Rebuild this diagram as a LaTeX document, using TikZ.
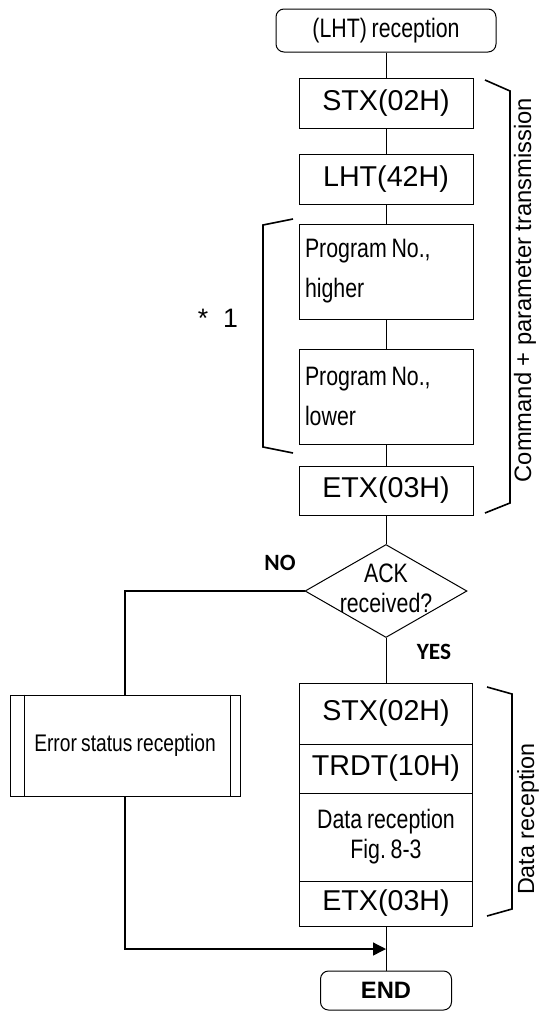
\documentclass[tikz,border=0pt]{standalone}
\usepackage{fontspec}
\setmainfont{Liberation Sans}
\newfontfamily\narrowfont[FakeStretch=0.8,WordSpace=0.8]{Liberation Sans}
\newfontfamily\yesnofont{Carlito}
\usepackage{tikz}
\usetikzlibrary{shapes.geometric,arrows.meta,calc}
\newlength{\pxu}\setlength{\pxu}{0.75pt}

\begin{document}
\begin{tikzpicture}[x=0.75pt,y=0.75pt,yscale=-1,xscale=1,
  frame/.style={draw, line width=0.75pt, inner sep=0pt, minimum width=174\pxu},
  term/.style={frame, rounded corners=8\pxu},
  cell/.style={frame, minimum width=173\pxu},
  decision/.style={draw, diamond, line width=0.75pt, inner sep=0pt, minimum width=162\pxu, minimum height=93\pxu},
  brace/.style={line width=1.2pt},
  flow/.style={line width=1pt},
  bigtext/.style={font=\fontsize{21.5}{26}\selectfont},
  narrowtext/.style={font=\narrowfont\fontsize{20}{30}\selectfont},
  sidetext/.style={font=\fontsize{17.5}{20}\selectfont, rotate=90},
  yesno/.style={font=\yesnofont\bfseries\fontsize{17.5}{20}\selectfont}]
\useasboundingbox (0,0) rectangle (541,1011);
% command + parameter transmission
\node[term, minimum width=220\pxu, minimum height=43\pxu, narrowtext] (start) at (386,30.5) {(LHT) reception};
\node[frame, minimum height=50\pxu, bigtext] (stx) at (386,103) {STX(02H)};
\node[frame, minimum height=50\pxu, bigtext] (lht) at (386,179) {LHT(42H)};
\node[frame, minimum height=95\pxu, narrowtext, text width=162\pxu, inner xsep=6\pxu, align=flush left] (proghi) at (386,271.5) {Program No.,\\higher};
\node[frame, minimum height=95\pxu, narrowtext, text width=162\pxu, inner xsep=6\pxu, align=flush left] (proglo) at (386,396.5) {Program No.,\\lower};
\node[frame, minimum height=49\pxu, bigtext] (etx) at (386,490.5) {ETX(03H)};
% decision
\node[decision] (ack) at (386,591) {};
\node[narrowtext, font=\narrowfont\fontsize{20}{22.5}\selectfont, align=center] (acktext) at (386,588) {ACK\\received?};
\node[yesno] (no) at (280,563) {NO};
\node[yesno] (yes) at (434,652) {YES};
% data reception
\node[cell, minimum height=61\pxu, bigtext] (dstx) at (386,713.5) {STX(02H)};
\node[cell, minimum height=49\pxu, bigtext] (dtrdt) at (386,768.5) {TRDT(10H)};
\node[cell, minimum height=88\pxu, font=\narrowfont\fontsize{20}{22.5}\selectfont, align=center] (drec) at (386,837) {Data reception\\Fig.\ 8-3};
\node[cell, minimum height=45\pxu, bigtext] (detx) at (386,903.5) {ETX(03H)};
% error branch
\node[frame, minimum width=230\pxu, minimum height=101\pxu, font=\narrowfont\fontsize{18}{22}\selectfont] (err) at (125,745.5) {Error status reception};
\draw ($(err.north west)+(15,0)$) -- ($(err.south west)+(15,0)$);
\draw ($(err.north east)+(-10,0)$) -- ($(err.south east)+(-10,0)$);
\node[term, minimum width=131\pxu, minimum height=39\pxu, font=\bfseries\fontsize{17.8}{20}\selectfont] (end) at (386,990.5) {END};
\coordinate (join) at (386,949);
% connectors
\draw (start) -- (stx);
\draw (stx) -- (lht);
\draw (lht) -- (proghi);
\draw (proghi) -- (proglo);
\draw (proglo) -- (etx);
\draw (etx) -- (ack);
\draw (ack) -- (dstx);
\draw[flow] (ack.west) -| (err.north);
\draw[flow, -{Triangle[length=9.75pt, width=9.75pt]}] (err.south) |- (join);
\draw (detx) -- (end);
% brackets and side labels
\draw[brace] (485,80) -- (510,91) -- (510,503) -- (485,513);
\draw[brace] (293,219) -- (263,225) -- (263,447) -- (293,453);
\draw[brace] (487,687) -- (512,694) -- (512,909) -- (487,916);
\node[sidetext, font=\fontsize{17.8}{20}\selectfont] (cmdlabel) at (525,290) {Command + parameter transmission};
\node[sidetext] (datalabel) at (528,819) {Data reception};
\node[font=\fontsize{20}{22}\selectfont] (star) at (218,318) {*~~1};
\end{tikzpicture}
\end{document}
